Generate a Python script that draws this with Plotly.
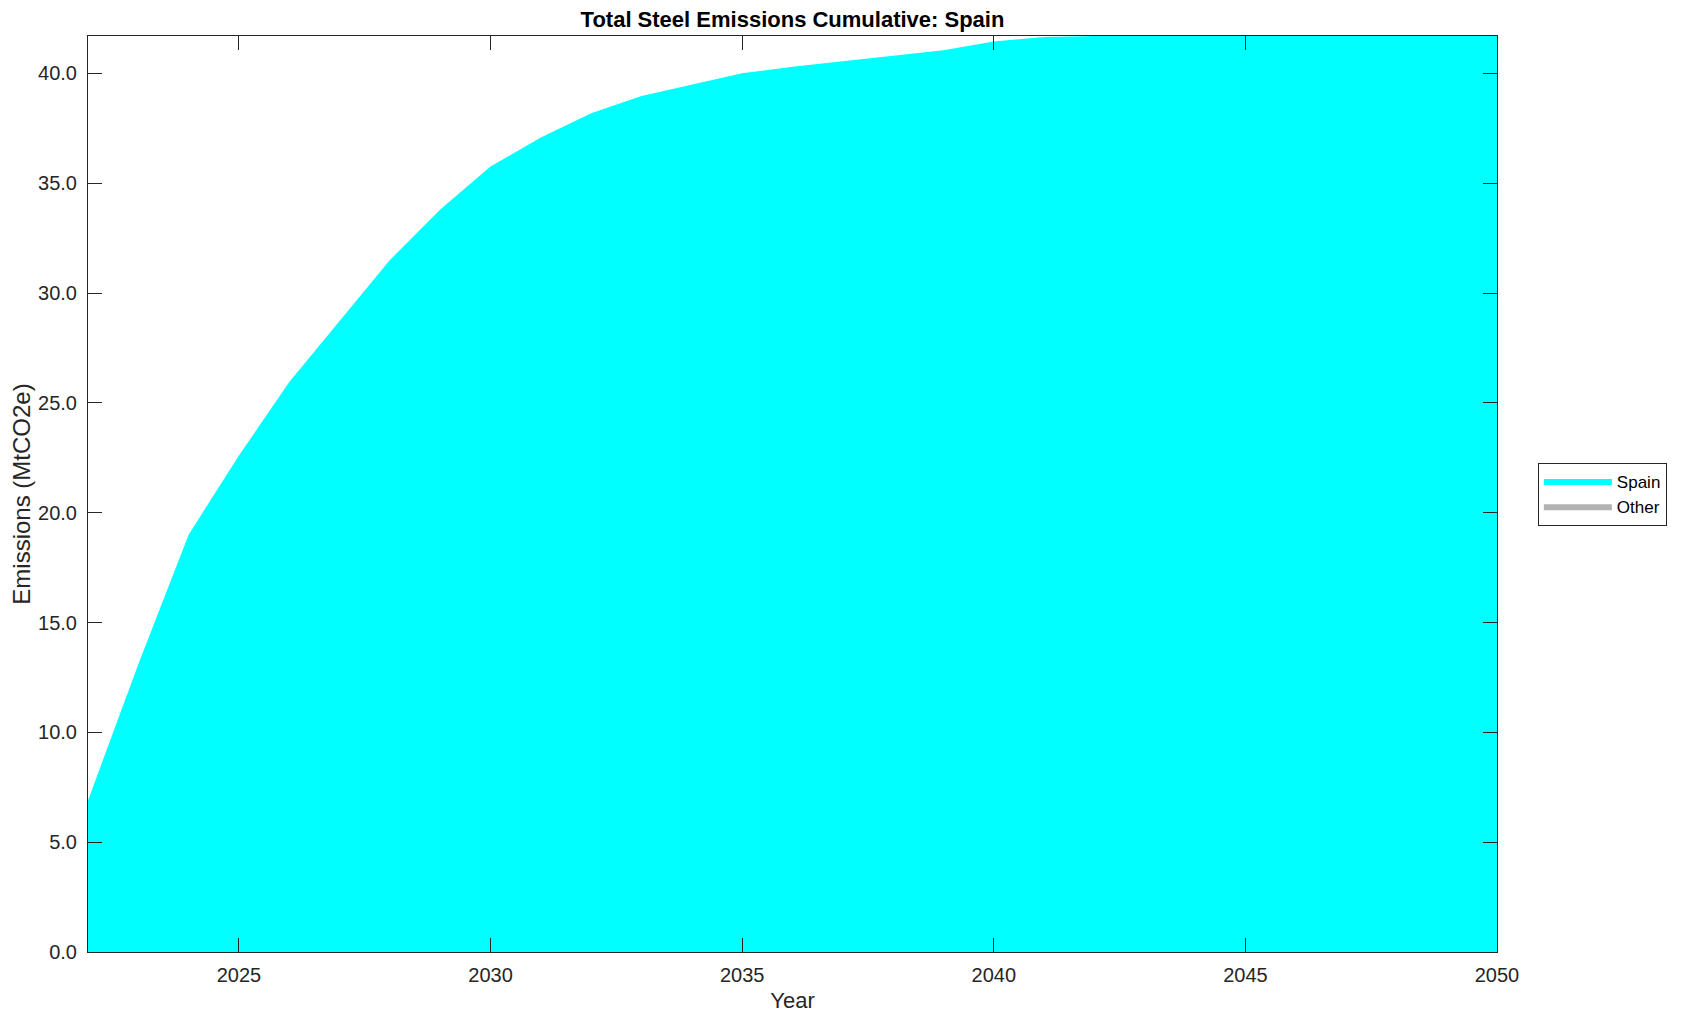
import plotly.graph_objects as go

years = list(range(2022, 2051))
spain = [6.9, 13.1, 19.0, 22.6, 25.95, 28.7, 31.5, 33.8, 35.76, 37.08, 38.18, 38.97, 39.5,
         40.0, 40.3, 40.56, 40.82, 41.05, 41.45, 41.66, 41.7, 41.7, 41.7, 41.7, 41.7,
         41.7, 41.7, 41.7, 41.7]
other = [0.0] * len(years)

x_ticks = [2025, 2030, 2035, 2040, 2045, 2050]
y_ticks = [0, 5, 10, 15, 20, 25, 30, 35, 40]

FONT = "Liberation Sans, Arial, Helvetica, sans-serif"
AX = "#262626"

fig = go.Figure()
fig.add_trace(go.Scatter(x=years, y=spain, name="Spain", mode="lines",
                         stackgroup="one", line=dict(width=0, color="#00FFFF"),
                         fillcolor="#00FFFF"))
fig.add_trace(go.Scatter(x=years, y=other, name="Other", mode="lines",
                         stackgroup="one", line=dict(width=0, color="#B3B3B3"),
                         fillcolor="#B3B3B3"))

axis_common = dict(showgrid=False, zeroline=False, showline=True, linecolor=AX,
                   linewidth=1, mirror="ticks", ticks="inside", ticklen=14, automargin=False,
                   tickcolor=AX, tickwidth=1, tickfont=dict(family=FONT, size=20, color=AX))

fig.update_xaxes(range=[2022, 2050], tickvals=x_ticks, ticklabelstandoff=5,
                 title=dict(text="Year", font=dict(family=FONT, size=22, color=AX), standoff=9),
                 **axis_common)
fig.update_yaxes(range=[0, 41.7], tickvals=y_ticks, tickformat=".1f", ticklabelstandoff=6,
                 title=dict(text="Emissions (MtCO2e)", font=dict(family=FONT, size=24, color=AX), standoff=3),
                 **axis_common)

fig.update_layout(
    width=1671, height=1005,
    margin=dict(l=80, r=171, t=28, b=61),
    paper_bgcolor="white", plot_bgcolor="white",
    title=dict(text="<b>Total Steel Emissions Cumulative: Spain</b>", x=0.5, xref="paper",
               y=0.9886, yref="container", yanchor="middle",
               font=dict(family=FONT, size=22, color="black")),
    legend=dict(x=1.029, y=0.5, xanchor="left", yanchor="middle", bgcolor="white",
                bordercolor=AX, borderwidth=1, font=dict(family=FONT, size=17, color="black"),
                traceorder="normal", itemwidth=68, tracegroupgap=0),
    showlegend=True,
)

fig.write_html("out.html")
